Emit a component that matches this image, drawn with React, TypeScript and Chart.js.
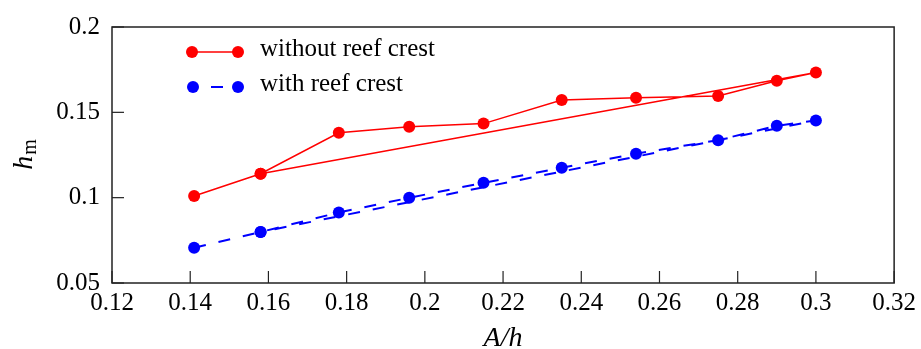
import React, { useEffect, useRef } from "react";
import { Chart, registerables } from "chart.js";

Chart.register(...registerables);

// ---- data ----
const xValues = [0.141, 0.158, 0.178, 0.196, 0.215, 0.235, 0.254, 0.275, 0.29, 0.3];
const withoutCrest = [0.101, 0.114, 0.138, 0.1415, 0.1434, 0.1572, 0.1586, 0.1596, 0.1685, 0.1734];
const withCrest = [0.0707, 0.0799, 0.0913, 0.0999, 0.1087, 0.1175, 0.1258, 0.1337, 0.1421, 0.1452];
// each recorded series jumps back to its second sample after the last one
const returnIndex = 1;
const xTicks = [0.12, 0.14, 0.16, 0.18, 0.2, 0.22, 0.24, 0.26, 0.28, 0.3, 0.32];
const yTicks = [0.05, 0.1, 0.15, 0.2];
const seriesLabels = ["without reef crest", "with reef crest"];
const seriesColors = ["#ff0000", "#0000ff"];
const xTitle = "A/h";
const yTitleMain = "h";
const yTitleSub = "m";

const FONT = '"Liberation Serif", "Times New Roman", serif';

function toPath(ys: number[]) {
  const pts = xValues.map((x, i) => ({ x, y: ys[i] }));
  pts.push({ x: xValues[returnIndex], y: ys[returnIndex] });
  return pts;
}

const fmt = (v: number) => String(Number(v.toFixed(2)));

const decorPlugin = {
  id: "decor",
  afterDraw(chart: any) {
    const { ctx, chartArea } = chart;
    const { left, right, top, bottom } = chartArea;
    const xs = chart.scales.x;
    const ys = chart.scales.y;
    ctx.save();
    // inward ticks
    ctx.strokeStyle = "#222";
    ctx.lineWidth = 1.2;
    xs.ticks.forEach((t: any) => {
      const px = xs.getPixelForValue(t.value);
      ctx.beginPath();
      ctx.moveTo(px, bottom);
      ctx.lineTo(px, bottom - 12);
      ctx.stroke();
    });
    ys.ticks.forEach((t: any) => {
      const py = ys.getPixelForValue(t.value);
      ctx.beginPath();
      ctx.moveTo(left, py);
      ctx.lineTo(left + 12, py);
      ctx.stroke();
    });
    // frame
    ctx.lineWidth = 1.5;
    ctx.strokeRect(left, top, right - left, bottom - top);

    // axis titles
    ctx.fillStyle = "#000";
    ctx.font = `italic 28px ${FONT}`;
    ctx.textAlign = "center";
    ctx.textBaseline = "alphabetic";
    ctx.fillText(xTitle, (left + right) / 2, 346);

    ctx.save();
    ctx.translate(32, (top + bottom) / 2);
    ctx.rotate(-Math.PI / 2);
    ctx.font = `italic 28px ${FONT}`;
    const wh = ctx.measureText(yTitleMain).width;
    ctx.font = `20px ${FONT}`;
    const wm = ctx.measureText(yTitleSub).width;
    const start = -(wh + wm) / 2;
    ctx.textAlign = "left";
    ctx.font = `italic 28px ${FONT}`;
    ctx.fillText(yTitleMain, start, 0);
    ctx.font = `20px ${FONT}`;
    ctx.fillText(yTitleSub, start + wh + 1, 4);
    ctx.restore();

    // legend
    const rows = [52, 87];
    rows.forEach((ry, i) => {
      const c = seriesColors[i];
      ctx.strokeStyle = c;
      ctx.fillStyle = c;
      ctx.lineWidth = i === 0 ? 1.5 : 2;
      ctx.beginPath();
      if (i === 0) {
        ctx.moveTo(192, ry);
        ctx.lineTo(238, ry);
      } else {
        ctx.moveTo(211, ry);
        ctx.lineTo(223, ry);
      }
      ctx.stroke();
      [i === 0 ? 192 : 193, 238].forEach((cx) => {
        ctx.beginPath();
        ctx.arc(cx, ry, 6, 0, Math.PI * 2);
        ctx.fill();
      });
      ctx.fillStyle = "#000";
      ctx.font = `25px ${FONT}`;
      ctx.textAlign = "left";
      ctx.textBaseline = "alphabetic";
      ctx.fillText(seriesLabels[i], 260, ry + 4);
    });
    ctx.restore();
  },
};

export default function App() {
  const ref = useRef<HTMLCanvasElement | null>(null);
  useEffect(() => {
    if (!ref.current) return;
    const chart = new Chart(ref.current, {
      type: "line",
      data: {
        datasets: [
          {
            label: seriesLabels[0],
            data: toPath(withoutCrest),
            borderColor: seriesColors[0],
            backgroundColor: seriesColors[0],
            borderWidth: 1.5,
            pointRadius: 6,
            pointBorderWidth: 0,
            pointBackgroundColor: seriesColors[0],
            tension: 0,
          },
          {
            label: seriesLabels[1],
            data: toPath(withCrest),
            borderColor: seriesColors[1],
            backgroundColor: seriesColors[1],
            borderWidth: 2,
            borderDash: [12, 13],
            pointRadius: 6,
            pointBorderWidth: 0,
            pointBackgroundColor: seriesColors[1],
            tension: 0,
          },
        ],
      },
      options: {
        animation: false,
        responsive: false,
        maintainAspectRatio: false,
        devicePixelRatio: 1,
        layout: { padding: { top: 22, right: 26, left: 0, bottom: 0 } },
        plugins: { legend: { display: false }, tooltip: { enabled: false } },
        scales: {
          x: {
            type: "linear",
            min: 0.12,
            max: 0.32,
            afterBuildTicks: (s: any) => {
              s.ticks = xTicks.map((v) => ({ value: v }));
            },
            afterFit: (s: any) => {
              s.height = 66;
            },
            grid: { display: false, drawTicks: false },
            border: { display: false },
            ticks: {
              autoSkip: false,
              maxRotation: 0,
              padding: 5,
              color: "#000",
              font: { family: FONT, size: 25 },
              callback: (v: any) => fmt(Number(v)),
            },
          },
          y: {
            type: "linear",
            min: 0.05,
            max: 0.2,
            afterBuildTicks: (s: any) => {
              s.ticks = yTicks.map((v) => ({ value: v }));
            },
            afterFit: (s: any) => {
              s.width = 112;
            },
            grid: { display: false, drawTicks: false },
            border: { display: false },
            ticks: {
              autoSkip: false,
              padding: 12,
              color: "#000",
              font: { family: FONT, size: 25 },
              callback: (v: any) => fmt(Number(v)),
            },
          },
        },
      },
      plugins: [decorPlugin],
    });
    return () => chart.destroy();
  }, []);
  return (
    <div style={{ position: "absolute", left: 0, top: 0, width: 921, height: 349, background: "#fff" }}>
      <canvas ref={ref} width={921} height={349} style={{ width: 921, height: 349, display: "block" }} />
    </div>
  );
}
